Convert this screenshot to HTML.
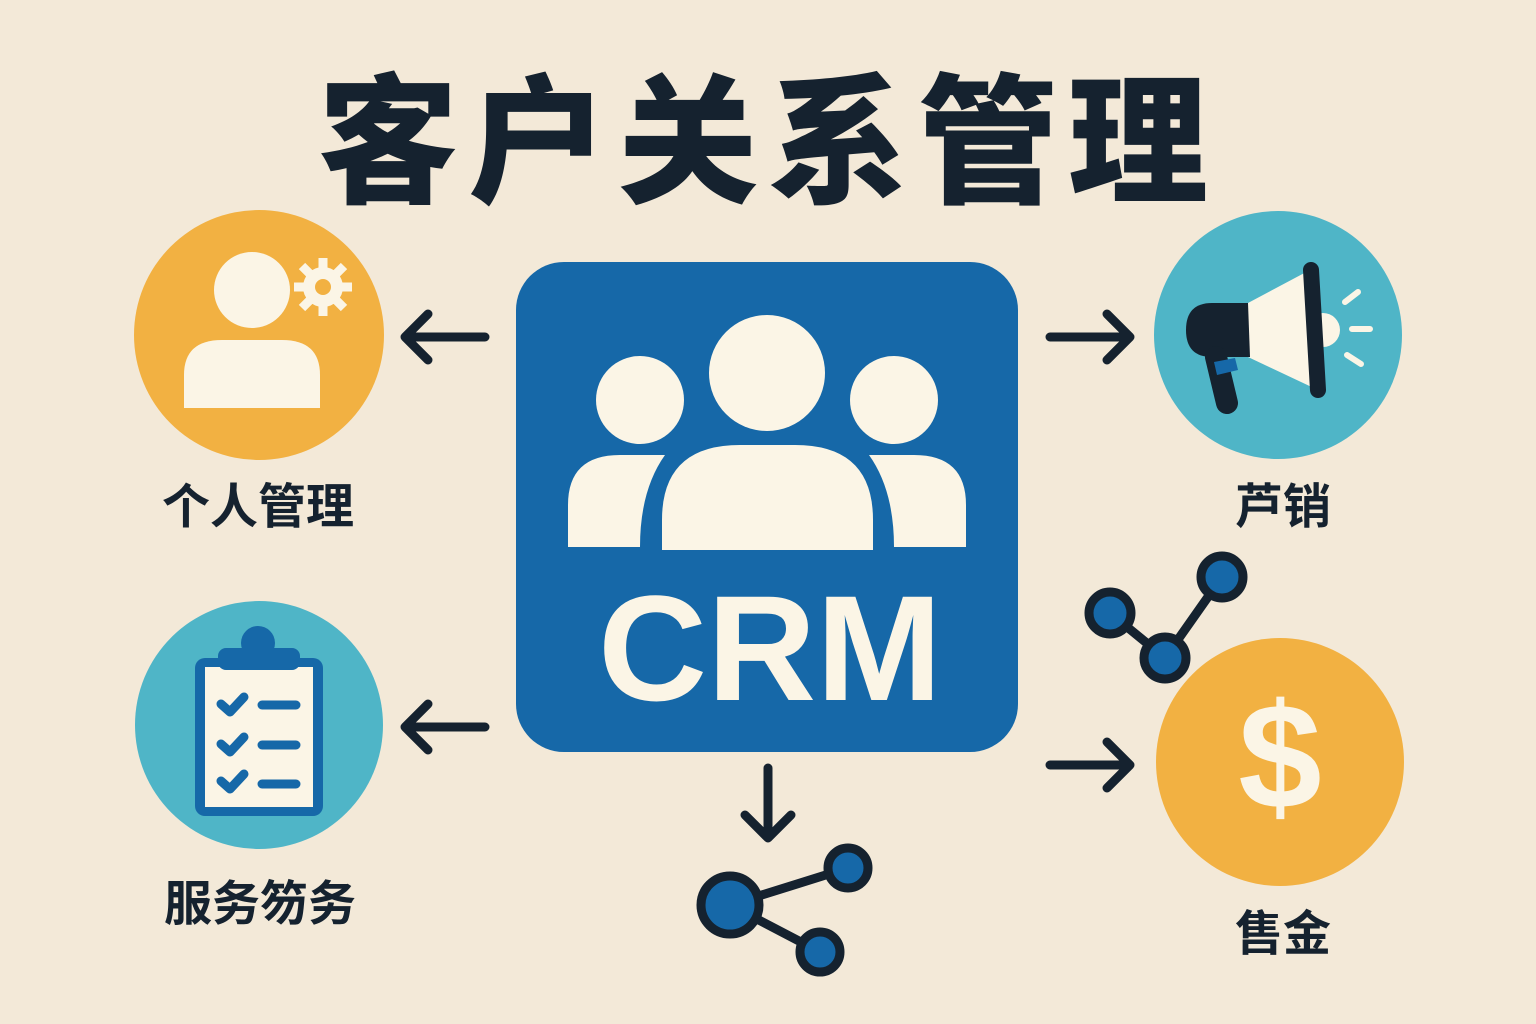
<!DOCTYPE html>
<html><head><meta charset="utf-8"><style>
html,body{margin:0;padding:0;background:#f3e9d8;}
svg{display:block}
text{font-family:"Liberation Sans","Noto Sans CJK SC",sans-serif;font-weight:bold;}
</style></head><body>
<svg width="1536" height="1024" viewBox="0 0 1536 1024" xmlns="http://www.w3.org/2000/svg">
<rect width="1536" height="1024" fill="#f3e9d8"/>
<text x="768" y="192" text-anchor="middle" font-size="140" fill="#15222f" letter-spacing="10" style="font-family:'Noto Sans CJK SC',sans-serif;font-weight:900">客户关系管理</text>

<rect x="516" y="262" width="502" height="490" rx="48" fill="#1668a8"/>
<g fill="#fbf5e6">
<circle cx="640" cy="400" r="44"/>
<circle cx="894" cy="400" r="44"/>
<circle cx="767" cy="373" r="58"/>
<path d="M568 547 V505 Q568 455 620 455 H665 Q640 490 640 547 Z"/>
<path d="M966 547 V505 Q966 455 914 455 H869 Q894 490 894 547 Z"/>
<path d="M662 550 V520 Q662 445 740 445 H795 Q873 445 873 520 V550 Z"/>
</g>
<text x="770" y="700" text-anchor="middle" font-size="150" fill="#fbf5e6" textLength="344" lengthAdjust="spacingAndGlyphs">CRM</text>

<g stroke="#15222f" stroke-width="9" fill="none" stroke-linecap="round" stroke-linejoin="round">
<path d="M485 337 H405 M428 314 L405 337 L428 360"/>
<path d="M485 727 H405 M428 704 L405 727 L428 750"/>
<path d="M1050 337 H1130 M1107 314 L1130 337 L1107 360"/>
<path d="M1050 765 H1130 M1107 742 L1130 765 L1107 788"/>
<path d="M768 768 V838 M745 815 L768 838 L791 815"/>
<path d="M730 905 L848 868 M730 905 L820 952"/>
<path d="M1110 613 L1165 658 L1222 577"/>
</g>

<circle cx="259" cy="335" r="125" fill="#f2b142"/>
<g fill="#fbf5e6">
<circle cx="252" cy="290" r="38"/>
<path d="M184 408 V375 Q184 340 222 340 H282 Q320 340 320 375 V408 Z"/>
<circle cx="323" cy="287" r="20"/>
</g>
<g stroke="#fbf5e6" stroke-width="9" stroke-linecap="butt">
<path d="M323 258 V316 M294 287 H352 M302 266 L344 308 M344 266 L302 308"/>
</g>
<circle cx="323" cy="287" r="8" fill="#f2b142"/>
<text x="258" y="523" text-anchor="middle" font-size="48" fill="#15222f">个人管理</text>

<circle cx="259" cy="725" r="124" fill="#4fb5c7"/>
<rect x="195" y="658" width="128" height="158" rx="10" fill="#1668a8"/>
<rect x="205" y="667" width="108" height="140" fill="#fbf5e6"/>
<circle cx="258" cy="643" r="17" fill="#1668a8"/>
<rect x="218" y="648" width="82" height="22" rx="8" fill="#1668a8"/>
<g stroke="#1668a8" stroke-width="9" stroke-linecap="round" stroke-linejoin="round" fill="none">
<path d="M221 704 L230 712 L244 697 M262 705 H296"/>
<path d="M221 744 L230 752 L244 737 M262 745 H296"/>
<path d="M221 781 L230 789 L244 774 M262 784 H296"/>
</g>
<text x="260" y="920" text-anchor="middle" font-size="48" fill="#15222f">服务笏务</text>

<circle cx="1278" cy="335" r="124" fill="#4fb5c7"/>
<path d="M1248 303 L1310 270 L1318 390 L1248 357 Z" fill="#fbf5e6"/>
<circle cx="1323" cy="330" r="17" fill="#fbf5e6"/>
<path d="M1248 303 H1212 Q1186 303 1186 330 Q1186 357 1212 357 H1250 Z" fill="#15222f"/>
<path d="M1216 357 L1227 403" stroke="#15222f" stroke-width="22" stroke-linecap="round"/>
<path d="M1214 362 L1235 358 L1238 370 L1217 375 Z" fill="#1668a8"/>
<path d="M1311 270 L1318 390" stroke="#15222f" stroke-width="16" stroke-linecap="round"/>
<g stroke="#fbf5e6" stroke-width="6" stroke-linecap="round">
<path d="M1345 302 L1358 292 M1352 329 H1370 M1347 355 L1361 364"/>
</g>
<text x="1283" y="523" text-anchor="middle" font-size="48" fill="#15222f">芦销</text>

<circle cx="1280" cy="762" r="124" fill="#f2b142"/>
<text x="1280" y="808" text-anchor="middle" font-size="150" fill="#fbf5e6">$</text>
<text x="1283" y="950" text-anchor="middle" font-size="48" fill="#15222f">售金</text>

<g fill="#1668a8" stroke="#15222f" stroke-width="9">
<circle cx="1110" cy="613" r="21"/>
<circle cx="1222" cy="577" r="21"/>
<circle cx="1165" cy="658" r="21"/>
<circle cx="730" cy="905" r="29"/>
<circle cx="848" cy="868" r="20"/>
<circle cx="820" cy="952" r="20"/>
</g>
</svg>
</body></html>
